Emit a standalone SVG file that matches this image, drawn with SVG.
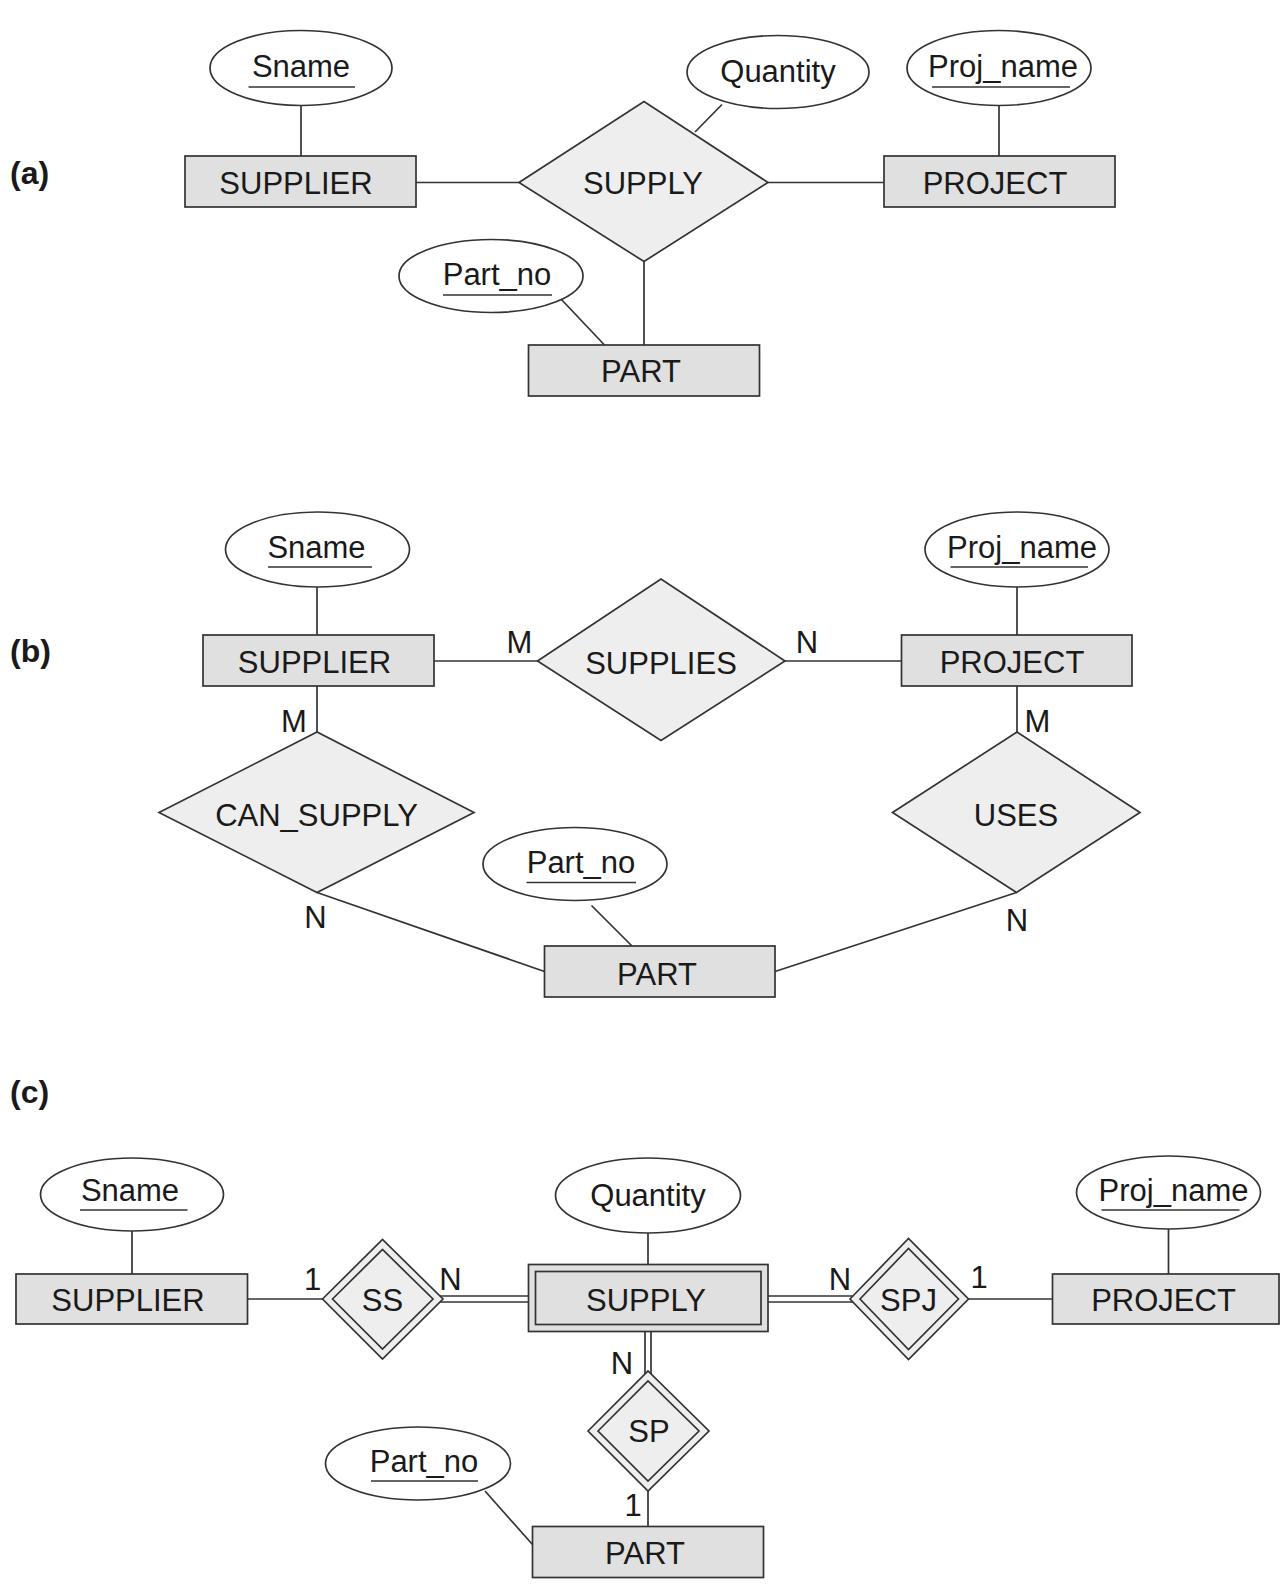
<svg xmlns="http://www.w3.org/2000/svg" width="1280" height="1590" viewBox="0 0 1280 1590">
<style>
  .ent { fill: #e0e0e0; stroke: #333; stroke-width: 1.7; }
  .rel { fill: #eeeeee; stroke: #333; stroke-width: 1.7; }
  .att { fill: #ffffff; stroke: #333; stroke-width: 1.7; }
  .ln { stroke: #333; stroke-width: 1.7; fill: none; }
  .ul { stroke: #333; stroke-width: 1.7; }
  text { font-family: "Liberation Sans", Arial, sans-serif; fill: #1a1a1a; }
  .t { font-size: 31px; text-anchor: middle; }
  .c { font-size: 31px; text-anchor: middle; }
  .lab { font-size: 32px; font-weight: bold; }
</style>
<rect width="1280" height="1590" fill="#ffffff"/>

<!-- section labels -->
<text class="lab" x="10" y="184">(a)</text>
<text class="lab" x="10" y="662">(b)</text>
<text class="lab" x="10" y="1103">(c)</text>

<!-- ================= (a) ================= -->
<g id="connectors-a">
  <line class="ln" x1="301" y1="106" x2="301" y2="156"/>
  <line class="ln" x1="416" y1="182.5" x2="519" y2="182.5"/>
  <line class="ln" x1="722" y1="104.5" x2="695" y2="132"/>
  <line class="ln" x1="768" y1="182.5" x2="884" y2="182.5"/>
  <line class="ln" x1="999" y1="106" x2="999" y2="156"/>
  <line class="ln" x1="644" y1="261.5" x2="644" y2="345"/>
  <line class="ln" x1="560" y1="298" x2="604.5" y2="345"/>
</g>

<g id="a-sname">
  <ellipse class="att" cx="301" cy="68" rx="91" ry="37.5"/>
  <text class="t" x="301" y="77">Sname</text>
  <line class="ul" x1="248.5" y1="87" x2="355" y2="87"/>
</g>
<g id="a-supplier">
  <rect class="ent" x="185" y="156" width="231" height="51"/>
  <text class="t" x="296" y="193.5">SUPPLIER</text>
</g>
<g id="a-supply">
  <polygon class="rel" points="519,182.5 644,101.5 768,182.5 644,261.5"/>
  <text class="t" x="643" y="194">SUPPLY</text>
</g>
<g id="a-quantity">
  <ellipse class="att" cx="778" cy="72" rx="91" ry="36.5"/>
  <text class="t" x="778" y="82">Quantity</text>
</g>
<g id="a-project">
  <rect class="ent" x="884" y="156" width="231" height="51"/>
  <text class="t" x="995" y="193.5">PROJECT</text>
</g>
<g id="a-projname">
  <ellipse class="att" cx="999" cy="68" rx="92" ry="37.5"/>
  <text class="t" x="1003" y="77">Proj_name</text>
  <line class="ul" x1="932" y1="87" x2="1070" y2="87"/>
</g>
<g id="a-partno">
  <ellipse class="att" cx="491" cy="276" rx="92" ry="36.5"/>
  <text class="t" x="497" y="285">Part_no</text>
  <line class="ul" x1="443" y1="295" x2="552" y2="295"/>
</g>
<g id="a-part">
  <rect class="ent" x="528.5" y="345" width="231" height="51"/>
  <text class="t" x="641" y="382">PART</text>
</g>

<!-- ================= (b) ================= -->
<g id="connectors-b">
  <line class="ln" x1="317" y1="586" x2="317" y2="635"/>
  <line class="ln" x1="434" y1="661" x2="537.5" y2="661"/>
  <line class="ln" x1="785" y1="661" x2="901.5" y2="661"/>
  <line class="ln" x1="1017" y1="586" x2="1017" y2="635"/>
  <line class="ln" x1="317" y1="686" x2="317" y2="732"/>
  <line class="ln" x1="1017" y1="686" x2="1017" y2="732"/>
  <line class="ln" x1="317" y1="892.5" x2="544.5" y2="971.5"/>
  <line class="ln" x1="1016.5" y1="892.5" x2="775" y2="971.5"/>
  <line class="ln" x1="591.5" y1="905.5" x2="632" y2="946"/>
  <text class="c" x="519.5" y="653">M</text>
  <text class="c" x="807" y="653">N</text>
  <text class="c" x="294" y="732">M</text>
  <text class="c" x="1037.5" y="732">M</text>
  <text class="c" x="315.5" y="928">N</text>
  <text class="c" x="1017" y="931">N</text>
</g>

<g id="b-sname">
  <ellipse class="att" cx="317.5" cy="549.5" rx="92" ry="37.5"/>
  <text class="t" x="316.5" y="558">Sname</text>
  <line class="ul" x1="268" y1="567" x2="372" y2="567"/>
</g>
<g id="b-supplier">
  <rect class="ent" x="203" y="635" width="231" height="51"/>
  <text class="t" x="314.5" y="672.5">SUPPLIER</text>
</g>
<g id="b-supplies">
  <polygon class="rel" points="537.5,661 661,579 785,661 661,740.5"/>
  <text class="t" x="661" y="673.5">SUPPLIES</text>
</g>
<g id="b-project">
  <rect class="ent" x="901.5" y="635" width="230.5" height="51"/>
  <text class="t" x="1012" y="672.5">PROJECT</text>
</g>
<g id="b-projname">
  <ellipse class="att" cx="1017" cy="549.5" rx="92" ry="37.5"/>
  <text class="t" x="1022" y="558">Proj_name</text>
  <line class="ul" x1="950.5" y1="567" x2="1088" y2="567"/>
</g>
<g id="b-cansupply">
  <polygon class="rel" points="159,812.5 317,732 474,812.5 317,892.5"/>
  <text class="t" x="316.5" y="825.5">CAN_SUPPLY</text>
</g>
<g id="b-uses">
  <polygon class="rel" points="892.5,812.5 1017,732 1140,812.5 1016.5,892.5"/>
  <text class="t" x="1016" y="825.5">USES</text>
</g>
<g id="b-partno">
  <ellipse class="att" cx="575" cy="864" rx="92" ry="36.5"/>
  <text class="t" x="581" y="873">Part_no</text>
  <line class="ul" x1="526.5" y1="882.5" x2="636" y2="882.5"/>
</g>
<g id="b-part">
  <rect class="ent" x="544.5" y="946" width="230.5" height="51"/>
  <text class="t" x="657" y="985">PART</text>
</g>

<!-- ================= (c) ================= -->
<g id="connectors-c">
  <line class="ln" x1="132" y1="1231" x2="132" y2="1274"/>
  <line class="ln" x1="247.5" y1="1299" x2="322.5" y2="1299"/>
  <line class="ln" x1="440" y1="1296" x2="528.5" y2="1296"/>
  <line class="ln" x1="440" y1="1302" x2="528.5" y2="1302"/>
  <line class="ln" x1="648" y1="1233" x2="648" y2="1264.5"/>
  <line class="ln" x1="768" y1="1296" x2="853" y2="1296"/>
  <line class="ln" x1="768" y1="1302" x2="853" y2="1302"/>
  <line class="ln" x1="968.5" y1="1299" x2="1052.5" y2="1299"/>
  <line class="ln" x1="1168.5" y1="1229" x2="1168.5" y2="1274"/>
  <line class="ln" x1="645" y1="1331.5" x2="645" y2="1374"/>
  <line class="ln" x1="651" y1="1331.5" x2="651" y2="1374"/>
  <line class="ln" x1="648" y1="1491" x2="648" y2="1526.5"/>
  <line class="ln" x1="485" y1="1491" x2="532.5" y2="1544.5"/>
  <text class="c" x="312.5" y="1290">1</text>
  <text class="c" x="450.5" y="1290">N</text>
  <text class="c" x="840" y="1290">N</text>
  <text class="c" x="979" y="1288">1</text>
  <text class="c" x="622" y="1374">N</text>
  <text class="c" x="633" y="1516">1</text>
</g>

<g id="c-sname">
  <ellipse class="att" cx="132" cy="1194.5" rx="91.5" ry="36.5"/>
  <text class="t" x="130" y="1201">Sname</text>
  <line class="ul" x1="80" y1="1210" x2="187.5" y2="1210"/>
</g>
<g id="c-supplier">
  <rect class="ent" x="16" y="1274" width="231.5" height="50"/>
  <text class="t" x="128" y="1310.5">SUPPLIER</text>
</g>
<g id="c-ss">
  <polygon class="rel" points="322.5,1299 382.5,1239.5 443,1299 382.5,1359"/>
  <polygon class="rel" points="332.5,1299 382.5,1249.5 433,1299 382.5,1349"/>
  <text class="t" x="382.5" y="1310.5">SS</text>
</g>
<g id="c-quantity">
  <ellipse class="att" cx="648" cy="1195.5" rx="92.5" ry="37.5"/>
  <text class="t" x="648" y="1206">Quantity</text>
</g>
<g id="c-supply">
  <rect class="ent" x="528.5" y="1264.5" width="239.5" height="67"/>
  <rect class="ent" x="535.5" y="1271.5" width="225.5" height="53"/>
  <text class="t" x="646" y="1310.5">SUPPLY</text>
</g>
<g id="c-spj">
  <polygon class="rel" points="850,1299 908.5,1238.5 968.5,1299 908.5,1359.5"/>
  <polygon class="rel" points="860,1299 908.5,1248.5 958.5,1299 908.5,1349.5"/>
  <text class="t" x="908.5" y="1310.5">SPJ</text>
</g>
<g id="c-project">
  <rect class="ent" x="1052.5" y="1274" width="226.5" height="50"/>
  <text class="t" x="1163.5" y="1310.5">PROJECT</text>
</g>
<g id="c-projname">
  <ellipse class="att" cx="1168.5" cy="1192.5" rx="92" ry="36.5"/>
  <text class="t" x="1173.5" y="1201">Proj_name</text>
  <line class="ul" x1="1101.5" y1="1210" x2="1239.5" y2="1210"/>
</g>
<g id="c-sp">
  <polygon class="rel" points="588,1431 648,1371 709,1431 648,1491"/>
  <polygon class="rel" points="598,1431 648,1381 699,1431 648,1481"/>
  <text class="t" x="649" y="1442">SP</text>
</g>
<g id="c-partno">
  <ellipse class="att" cx="418" cy="1463.5" rx="92.5" ry="36.5"/>
  <text class="t" x="424" y="1471.5">Part_no</text>
  <line class="ul" x1="371" y1="1481" x2="478" y2="1481"/>
</g>
<g id="c-part">
  <rect class="ent" x="532.5" y="1526.5" width="231" height="51"/>
  <text class="t" x="645" y="1564">PART</text>
</g>
</svg>
